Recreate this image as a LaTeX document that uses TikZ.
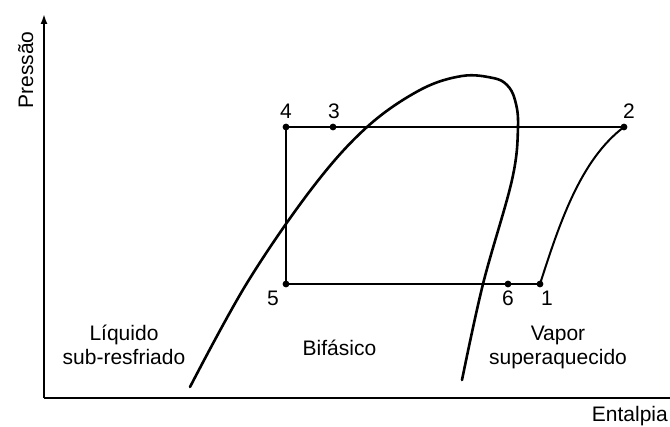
\documentclass[tikz,border=0pt]{standalone}
\usepackage{fontspec}
\setmainfont{Liberation Sans}
\usetikzlibrary{arrows.meta}

\begin{document}
\begin{tikzpicture}[x=1pt,y=-1pt,line join=round,
    lbl/.style={font=\fontsize{21}{24}\selectfont,inner sep=0pt},
    ciclo/.style={line width=2pt},
    eixo/.style={line width=1.8pt}]
  \useasboundingbox (0,0) rectangle (670,427);
  % eixos
  \coordinate (O) at (44,398);
  \coordinate (ytop) at (44,14);
  \coordinate (xend) at (670,398);
  \draw[eixo,-{Latex[length=10pt,width=7pt]}] (O) -- (ytop);
  \draw[eixo] (O) -- (xend);
  \node[lbl,rotate=90,anchor=base] (pressao) at (33,70) {Pressão};
  \node[lbl,anchor=base east] (entalpia) at (668,422) {Entalpia};
  % curva de saturacao
  \draw[line width=2.6pt,line cap=round] plot[smooth,tension=0.6] coordinates {
    (190,387) (247,283) (313,187) (367,127) (420,90) (462,76) (493,78)
    (507,85) (515,100) (518,127) (512,180) (483,284) (462,380)};
  % pontos do ciclo
  \coordinate (p1) at (540,284);
  \coordinate (p2) at (624,127);
  \coordinate (p3) at (333,127);
  \coordinate (p4) at (286,127);
  \coordinate (p5) at (286,284);
  \coordinate (p6) at (508,284);
  \draw[ciclo] (p5) -- (p4) -- (p3) -- (p2);
  \draw[ciclo] (p5) -- (p6) -- (p1);
  \draw[ciclo] (p1) .. controls (559,225) and (580,160) .. (p2);
  \foreach \i in {1,...,6}
    \fill (p\i) circle (3.4pt);
  \node[lbl,anchor=base] (l1) at (547,306) {1};
  \node[lbl,anchor=base] (l2) at (629,119) {2};
  \node[lbl,anchor=base] (l3) at (334,119) {3};
  \node[lbl,anchor=base] (l4) at (286,119) {4};
  \node[lbl,anchor=base] (l5) at (273,306) {5};
  \node[lbl,anchor=base] (l6) at (508,306) {6};
  % regioes
  \node[lbl,align=center,anchor=base] (liquido) at (124,365) {Líquido\\sub-resfriado};
  \node[lbl,anchor=base] (bifasico) at (339.5,356) {Bifásico};
  \node[lbl,align=center,anchor=base] (vapor) at (558,365) {Vapor\\superaquecido};
\end{tikzpicture}
\end{document}
